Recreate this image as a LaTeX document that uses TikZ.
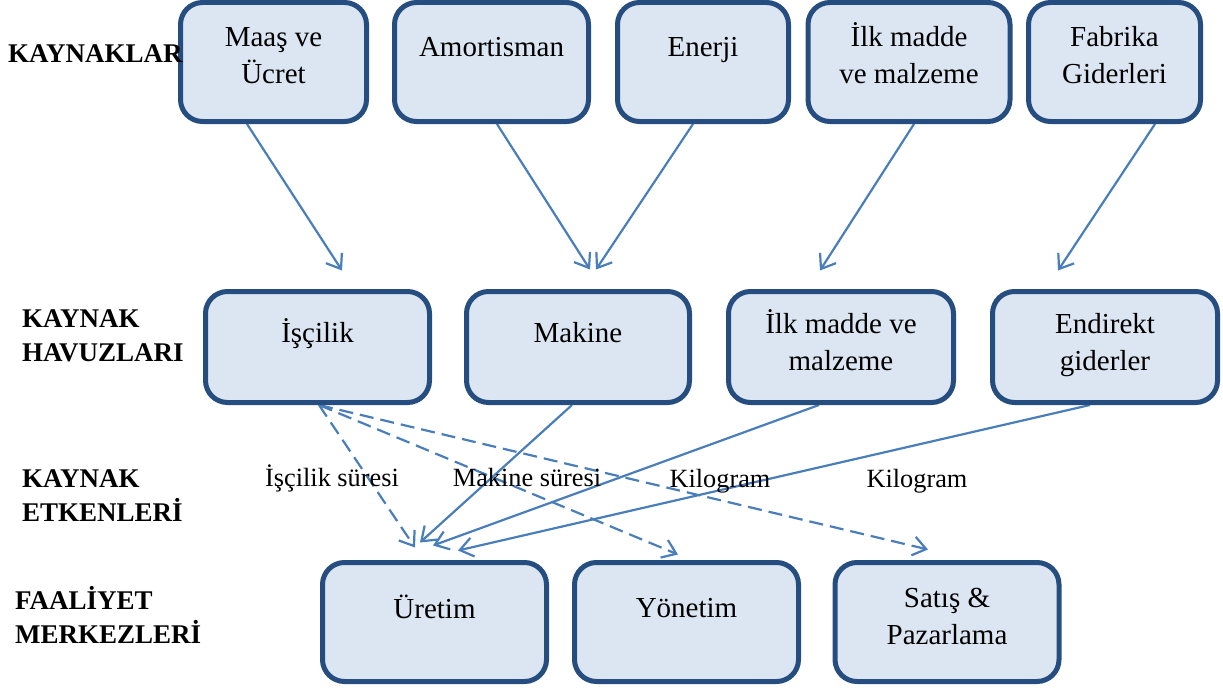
\documentclass[tikz,border=0pt]{standalone}
\usepackage{fontspec}
\setmainfont{Liberation Serif}
\usetikzlibrary{arrows.meta,backgrounds}
\definecolor{boxfill}{HTML}{DCE6F2}
\definecolor{boxline}{HTML}{264D80}
\definecolor{arrowc}{HTML}{4A7EBB}
\newcommand\mlines[2][c]{\begin{tabular}[t]{@{}#1@{}}#2\end{tabular}}
\begin{document}
\begin{tikzpicture}[x=1pt,y=-1pt,
 box/.style={draw=boxline, fill=boxfill, line width=5pt, rounded corners=22pt, inner sep=0pt},
 boxtxt/.style={anchor=base, inner sep=0pt, font=\fontsize{29}{37}\selectfont},
 lbl/.style={anchor=base, inner sep=0pt, font=\fontsize{26.3}{34}\selectfont},
 head/.style={anchor=base west, inner sep=0pt, font=\fontsize{27}{34}\selectfont\bfseries},
 arr/.style={draw=arrowc, line width=2.2pt, -{Straight Barb[length=13pt,width=19pt]}},
 darr/.style={arr, dash pattern=on 14pt off 7pt}]
\useasboundingbox (0,0) rectangle (1223,693);

% top row: resources
\node[box, minimum width=186pt, minimum height=119pt] (maas) at (273.5,62) {};
\node[box, minimum width=194pt, minimum height=119pt] (amort) at (491.5,62) {};
\node[box, minimum width=171pt, minimum height=119pt] (enerji) at (703,62) {};
\node[box, minimum width=202pt, minimum height=119pt] (ilk) at (909,62) {};
\node[box, minimum width=172pt, minimum height=119pt] (fab) at (1114.5,62) {};

% middle row: resource pools
\node[box, minimum width=224pt, minimum height=111pt] (isc) at (317.5,347) {};
\node[box, minimum width=223pt, minimum height=111pt] (mak) at (578,347) {};
\node[box, minimum width=225pt, minimum height=111pt] (ilkh) at (841,347) {};
\node[box, minimum width=225pt, minimum height=111pt] (end) at (1105,347) {};

% bottom row: activity centers
\node[box, minimum width=224pt, minimum height=119pt] (ure) at (434.5,622) {};
\node[box, minimum width=224pt, minimum height=119pt] (yon) at (686.5,622) {};
\node[box, minimum width=224pt, minimum height=119pt] (sat) at (947,622) {};

% box texts
\node[boxtxt] (maas-t) at (273.5,47) {\mlines{Maaş ve\\Ücret}};
\node[boxtxt] (amort-t) at (491.5,57) {Amortisman};
\node[boxtxt] (enerji-t) at (703,57) {Enerji};
\node[boxtxt] (ilk-t) at (909,47) {\mlines{İlk madde\\ve malzeme}};
\node[boxtxt] (fab-t) at (1114.5,47) {\mlines{Fabrika\\Giderleri}};
\node[boxtxt] (isc-t) at (317.5,342) {İşçilik};
\node[boxtxt] (mak-t) at (578,342) {Makine};
\node[boxtxt] (ilkh-t) at (841,333) {\mlines{İlk madde ve\\malzeme}};
\node[boxtxt] (end-t) at (1105,333) {\mlines{Endirekt\\giderler}};
\node[boxtxt] (ure-t) at (434.5,618) {Üretim};
\node[boxtxt] (yon-t) at (686.5,617) {Yönetim};
\node[boxtxt] (sat-t) at (947,607) {\mlines{Satış \&\\Pazarlama}};

% connectors
\begin{scope}[on background layer]
\draw[arr] ([xshift=-26.5pt]maas.south) -- ([xshift=24.5pt,yshift=18.5pt]isc.north);
\draw[arr] ([xshift=5.5pt]amort.south) -- ([xshift=12pt,yshift=19.5pt]mak.north);
\draw[arr] ([xshift=-10pt]enerji.south) -- ([xshift=18pt,yshift=19.5pt]mak.north);
\draw[arr] ([xshift=5pt]ilk.south) -- ([xshift=-21pt,yshift=18.5pt]ilkh.north);
\draw[arr] ([xshift=40.5pt]fab.south) -- ([xshift=-47pt,yshift=18.5pt]end.north);

\draw[arr] ([xshift=-6pt]mak.south) -- ([xshift=-14.5pt,yshift=17.5pt]ure.north);
\draw[arr] ([xshift=-22pt]ilkh.south) -- ([xshift=-1.5pt,yshift=14.5pt]ure.north);
\draw[arr] ([xshift=-15pt]end.south) -- ([xshift=23.5pt,yshift=9.5pt]ure.north);

\draw[darr] ([xshift=1.5pt]isc.south) -- ([xshift=-19.5pt,yshift=12.5pt]ure.north);
\draw[darr] ([xshift=1.5pt]isc.south) -- ([xshift=-8.5pt,yshift=5.5pt]yon.north);
\draw[darr] ([xshift=1.5pt]isc.south) -- ([xshift=-19pt,yshift=10.5pt]sat.north);
\end{scope}

% driver labels
\node[lbl] (l1) at (332,486) {İşçilik süresi};
\node[lbl] (l2) at (527,486) {Makine süresi};
\node[lbl] (l3) at (720,487) {Kilogram};
\node[lbl] (l4) at (917,487) {Kilogram};

% row headings
\node[head] (h1) at (8,63) {KAYNAKLAR};
\node[head] (h2) at (22,327) {\mlines[l]{KAYNAK\\HAVUZLARI}};
\node[head] (h3) at (22,487) {\mlines[l]{KAYNAK\\ETKENLERİ}};
\node[head] (h4) at (15,609) {\mlines[l]{FAALİYET\\MERKEZLERİ}};
\end{tikzpicture}
\end{document}
